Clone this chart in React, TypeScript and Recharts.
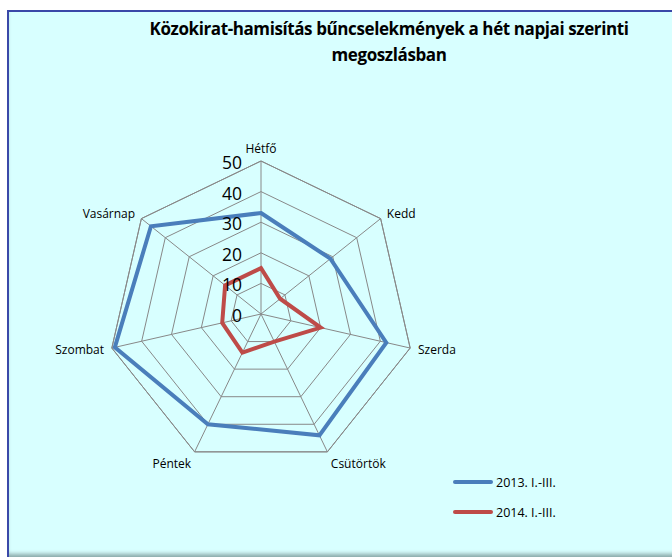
import React from "react";
import { RadarChart, Radar, PolarGrid, PolarAngleAxis, PolarRadiusAxis } from "recharts";

const days = ["Hétfő", "Kedd", "Szerda", "Csütörtök", "Péntek", "Szombat", "Vasárnap"];
const series2013 = [33, 29, 42, 44, 40, 49, 46];
const series2014 = [15, 8, 20, 10, 14, 13, 15];
const radiusTicks = [0, 10, 20, 30, 40, 50];
const seriesNames = ["2013. I.-III.", "2014. I.-III."];
const colors = ["#4A7EBB", "#BE4B48"];

const data = days.map((d, i) => ({ day: d, a: series2013[i], b: series2014[i] }));

const FONT = "'Open Sans', 'Noto Sans', sans-serif";

const RadiusTick = (props: any) => {
  const { x, y, payload } = props;
  return (
    <text x={x - 19} y={y + 1} textAnchor="end" dominantBaseline="central" fontSize={17.5} fill="#000" fontFamily={FONT}>
      {payload.value}
    </text>
  );
};

export default function App() {
  return (
    <div style={{ position: "absolute", left: 0, top: 0, width: 672, height: 559, background: "#fff", overflow: "hidden" }}>
      <div
        style={{
          position: "absolute",
          left: 7,
          top: 10,
          width: 700,
          height: 545,
          background: "#D8FFFF",
          borderLeft: "2px solid #3A48A8",
          borderTop: "2px solid #3A48A8",
          boxShadow: "inset 0 -5px 4px -2px #8AA8A8",
        }}
      />
      <div
        style={{
          position: "absolute",
          left: 94,
          top: 16,
          width: 590,
          textAlign: "center",
          fontFamily: FONT,
          fontWeight: 700,
          fontSize: 17,
          lineHeight: "26px",
          color: "#000",
          letterSpacing: -0.4,
        }}
      >
        Közokirat-hamisítás bűncselekmények a hét napjai szerinti
        <br />
        megoszlásban
      </div>
      <div style={{ position: "absolute", left: 0, top: 0 }}>
        <RadarChart width={672} height={559} data={data} cx={261} cy={314} outerRadius={153} startAngle={90} endAngle={-270}>
          <PolarGrid gridType="polygon" stroke="#888888" strokeWidth={1} />
          <PolarAngleAxis
            dataKey="day"
            tickLine={false}
            axisLine={{ stroke: "#888888" }}
            tick={{ fontSize: 12, fill: "#000", fontFamily: FONT }}
          />
          <PolarRadiusAxis
            angle={90}
            domain={[0, 50]}
            ticks={radiusTicks as any}
            tickCount={6}
            axisLine={false}
            tick={<RadiusTick />}
          />
          <Radar dataKey="a" stroke={colors[0]} strokeWidth={4} fill="none" fillOpacity={0} isAnimationActive={false} dot={false} />
          <Radar dataKey="b" stroke={colors[1]} strokeWidth={4} fill="none" fillOpacity={0} isAnimationActive={false} dot={false} />
        </RadarChart>
      </div>
      {seriesNames.map((n, i) => (
        <div key={n} style={{ position: "absolute", left: 453, top: 474 + i * 30, height: 16, display: "flex", alignItems: "center", fontFamily: FONT, fontSize: 12.5 }}>
          <div style={{ width: 40, height: 4, borderRadius: 2, background: colors[i], marginRight: 3 }} />
          <span>{n}</span>
        </div>
      ))}
    </div>
  );
}
